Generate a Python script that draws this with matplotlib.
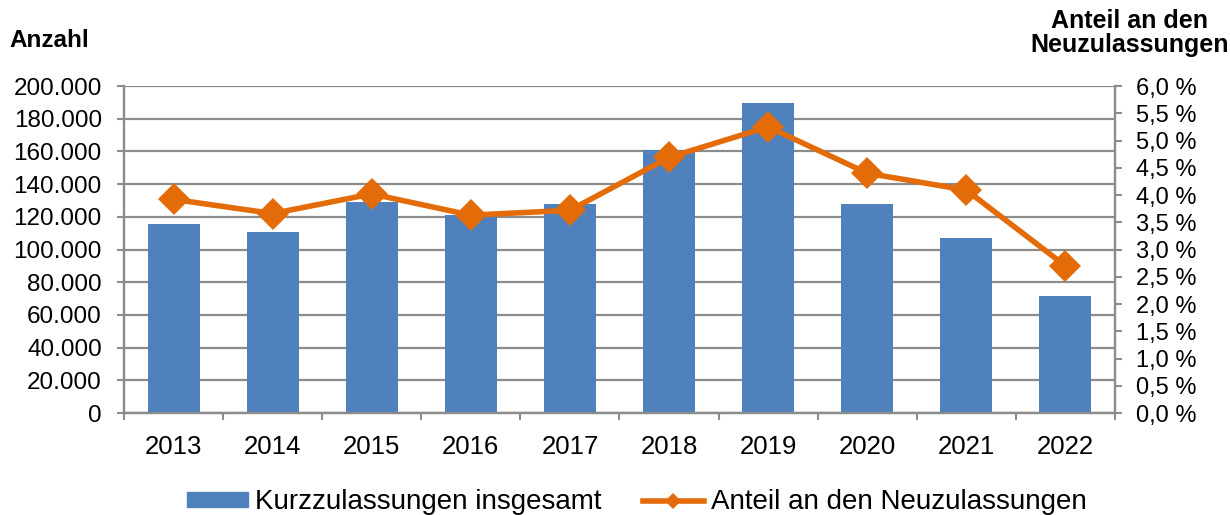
import matplotlib
matplotlib.use("Agg")
import matplotlib.pyplot as plt
from matplotlib.ticker import FuncFormatter, MultipleLocator, FixedLocator
from matplotlib.lines import Line2D
from matplotlib.patches import Patch

# data
years = ["2013", "2014", "2015", "2016", "2017", "2018", "2019", "2020", "2021", "2022"]
kurzzulassungen = [115600, 110500, 129000, 121000, 127600, 160900, 189400, 128000, 107000, 71600]
anteil_pct = [3.92, 3.66, 4.02, 3.63, 3.72, 4.69, 5.25, 4.40, 4.09, 2.70]

BAR = "#4F81BD"
LINE = "#E36C09"
GRID = "#8C8C8C"

plt.rcParams["font.family"] = ["Liberation Sans", "DejaVu Sans"]

fig = plt.figure(figsize=(12.3, 5.15), dpi=100)
ax = fig.add_axes([0.1008, 0.198, 0.8057, 0.635])
ax2 = ax.twinx()

x = list(range(len(years)))
ax.bar(x, kurzzulassungen, width=0.525, color=BAR, zorder=2)
ax2.plot(x, anteil_pct, color=LINE, lw=4, marker="D", ms=16, mew=0, zorder=3)

ax.set_xlim(-0.5, len(years) - 0.5)
ax.set_ylim(0, 200000)
ax2.set_ylim(0, 6)
ax.yaxis.set_major_locator(MultipleLocator(20000))
ax2.yaxis.set_major_locator(MultipleLocator(0.5))
ax.yaxis.set_major_formatter(FuncFormatter(lambda v, p: f"{int(v):,}".replace(",", ".")))
ax2.yaxis.set_major_formatter(FuncFormatter(lambda v, p: f"{v:.1f} %".replace(".", ",")))

ax.set_xticks(x)
ax.set_xticklabels(years)
ax.xaxis.set_minor_locator(FixedLocator([i - 0.5 for i in range(len(years) + 1)]))
ax.tick_params(axis="x", which="major", length=0, labelsize=18.5, pad=16)
ax.tick_params(axis="x", which="minor", length=5, width=1.5, color=GRID)
ax.tick_params(axis="y", length=5, width=1.5, color=GRID, labelsize=17.5, pad=11)
ax2.tick_params(axis="y", length=5, width=1.5, color=GRID, labelsize=17, pad=10)

ax.grid(axis="y", color=GRID, lw=1.6, zorder=0)
ax.set_axisbelow(True)
for a in (ax, ax2):
    a.spines["top"].set_visible(False)
    for s in ("left", "right", "bottom"):
        a.spines[s].set_color(GRID)
        a.spines[s].set_linewidth(1.6)

fig.text(0.008, 0.922, "Anzahl", fontsize=17.5, fontweight="bold", ha="left", va="center")
fig.text(0.918, 0.936, "Anteil an den\nNeuzulassungen", fontsize=18, fontweight="bold",
         ha="center", va="center", multialignment="center", linespacing=1.0)

handles = [Patch(color=BAR), Line2D([], [], color=LINE, lw=4, marker="D", ms=8, mew=0)]
labels = ["Kurzzulassungen insgesamt", "Anteil an den Neuzulassungen"]
fig.legend(handles, labels, loc="center", bbox_to_anchor=(0.5175, 0.025), ncol=2,
           frameon=False, fontsize=20, handlelength=2.2, handleheight=0.43,
           columnspacing=1.5, handletextpad=0.25, borderpad=0)

fig.savefig("out.png", dpi=100)
